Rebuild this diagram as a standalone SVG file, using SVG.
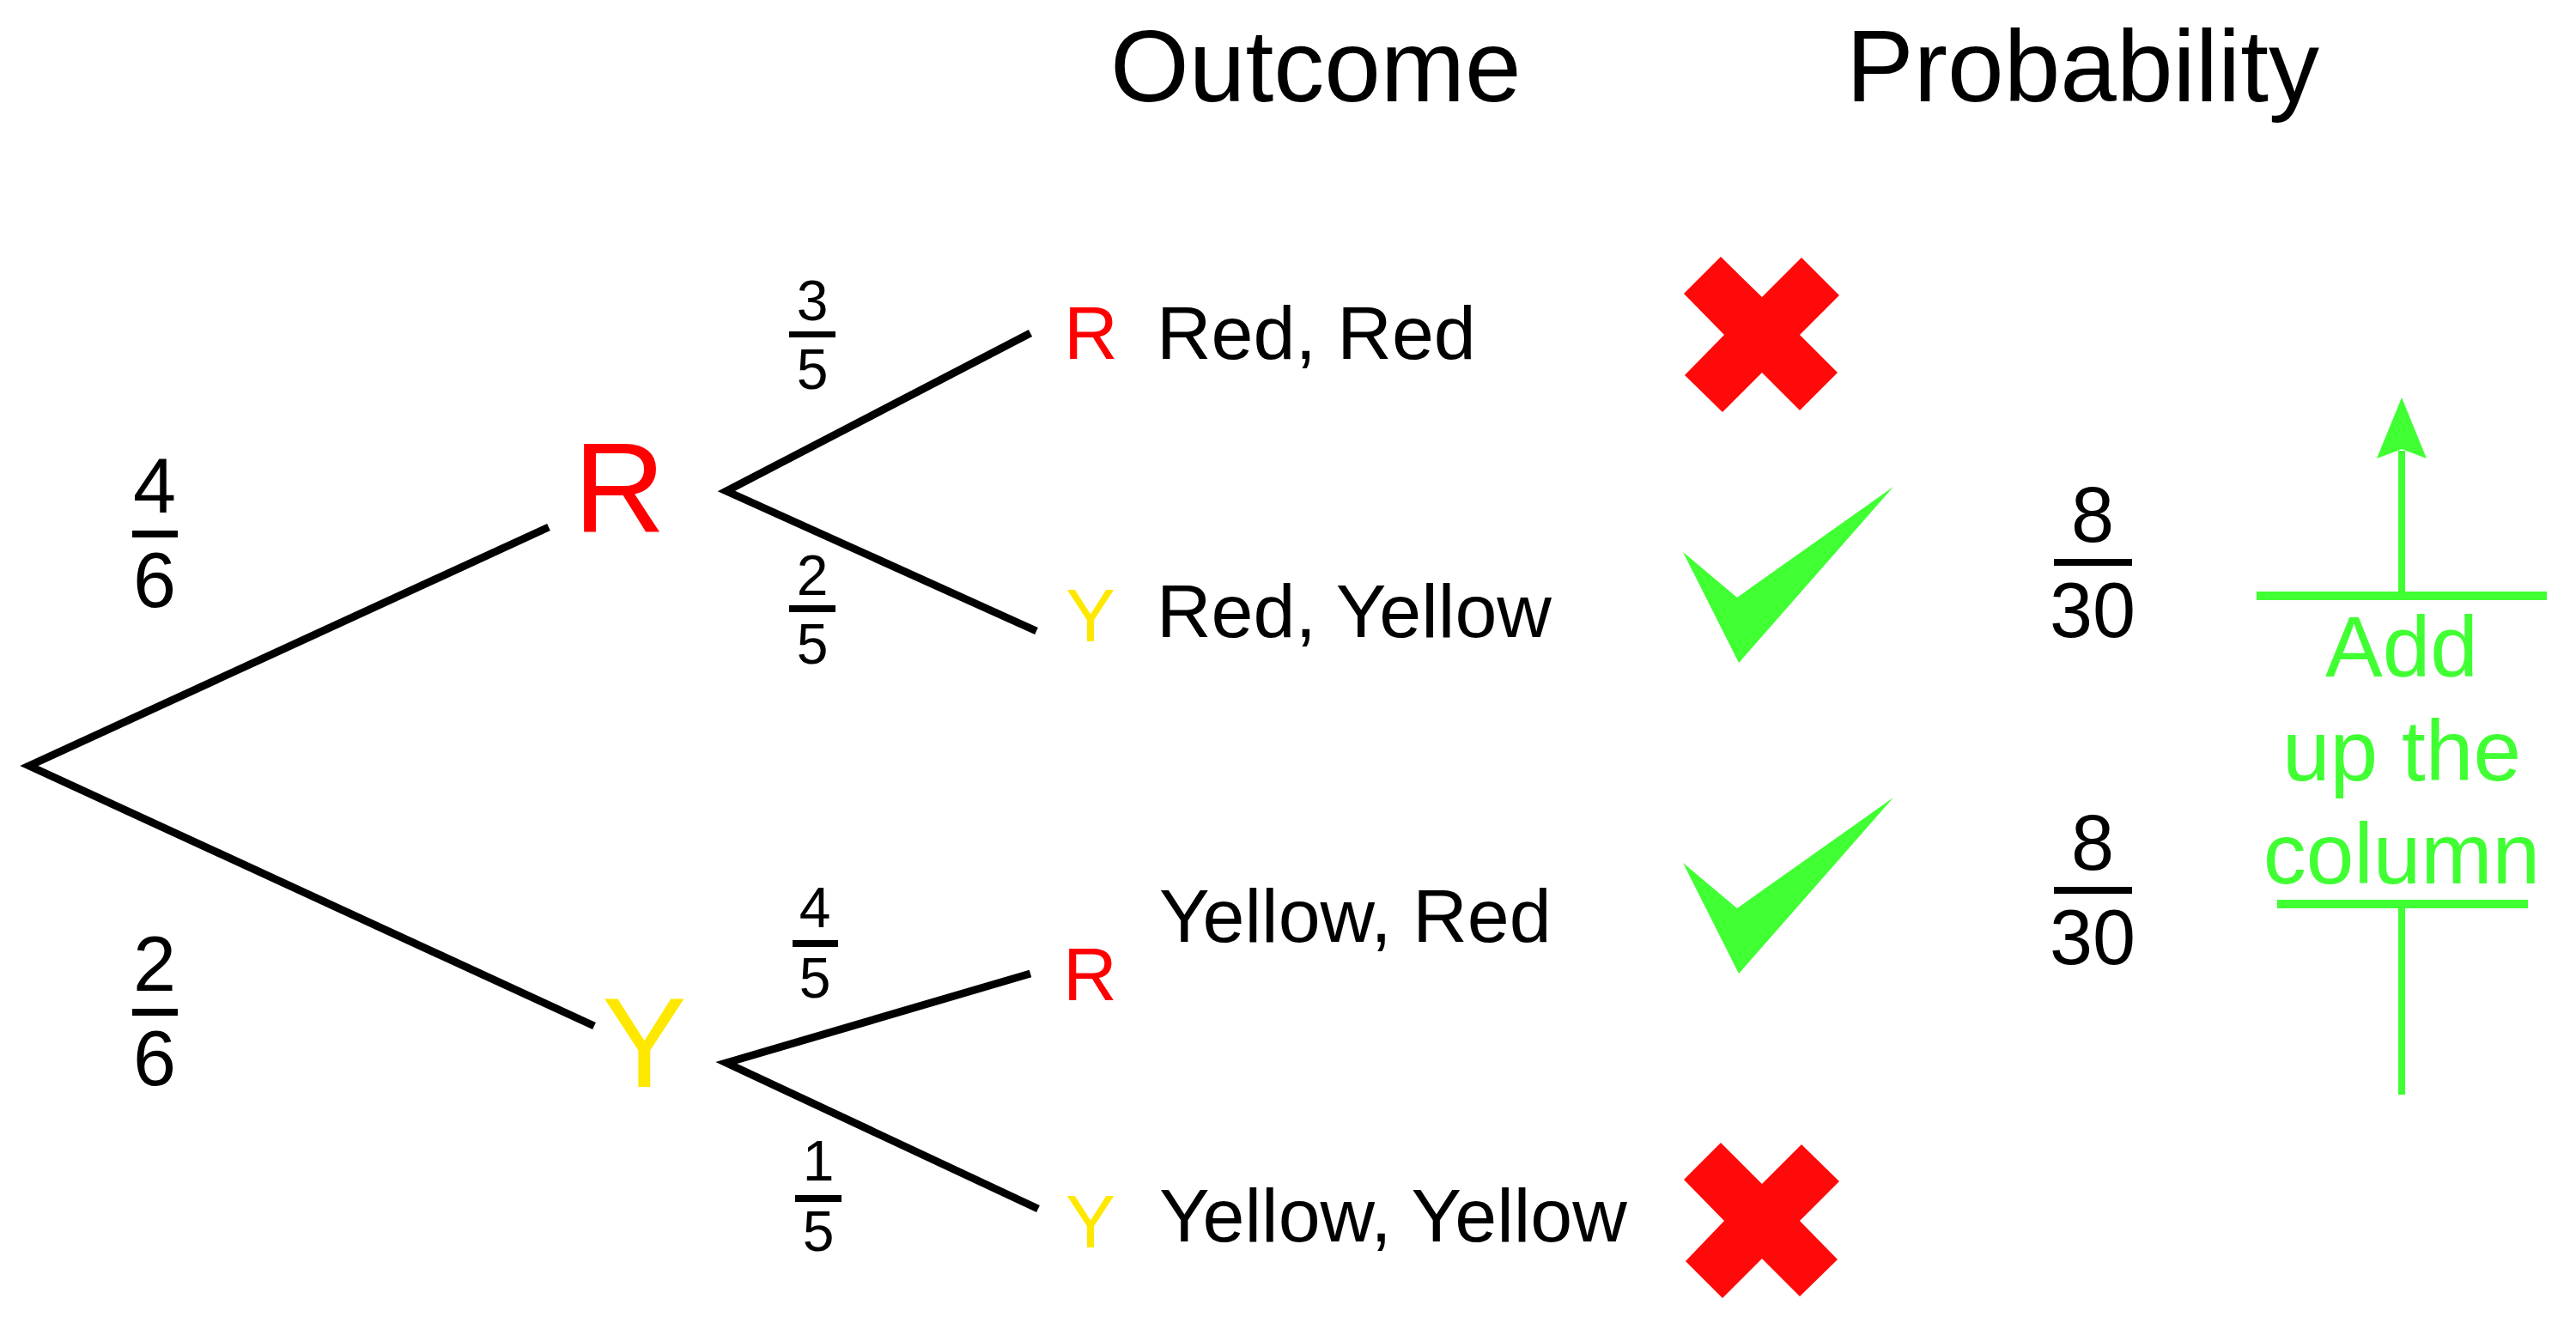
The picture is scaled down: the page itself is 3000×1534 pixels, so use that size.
<svg xmlns="http://www.w3.org/2000/svg" width="3000" height="1534" viewBox="0 0 3000 1534">
<style>
text{font-family:"Liberation Sans",Arial,sans-serif}
.hd{font-size:118px;fill:#000}
.big{font-size:148px}
.sm{font-size:87px}
.out{font-size:88px;fill:#000}
.f1{font-size:90px;fill:#000;text-anchor:middle}
.f2{font-size:66px;fill:#000;text-anchor:middle}
.red{fill:#ff0000}
.yel{fill:#ffe800}
.br{stroke:#000;stroke-width:9;fill:none;stroke-linejoin:miter;stroke-miterlimit:10}
.bar{fill:#000}
.x{fill:#ff0a0a}
.ck{fill:#40ff33}
.gl{stroke:#40ff33;fill:none}
.gt{font-size:100px;fill:#40ff33;text-anchor:middle}
</style>
<rect width="3000" height="1534" fill="#fff"/>
<g id="headers">
<text class="hd" x="1293" y="118">Outcome</text>
<text class="hd" x="2150" y="118">Probability</text>
</g>
<g id="connectors">
<polyline class="br" points="639,614 34,892 692,1195"/>
<polyline class="br" points="1200,388 846,572 1207,735"/>
<polyline class="br" points="1200,1134 846,1238 1209,1408"/>
</g>
<g id="branch-labels">
<g id="p-4-6"><text class="f1" x="180" y="597">4</text><rect class="bar" x="154" y="618" width="53" height="8"/><text class="f1" x="180" y="707">6</text></g>
<g id="p-2-6"><text class="f1" x="180" y="1154">2</text><rect class="bar" x="154" y="1175" width="53" height="8"/><text class="f1" x="180" y="1264">6</text></g>
<g id="p-3-5"><text class="f2" x="946" y="373">3</text><rect class="bar" x="919" y="386" width="54" height="7"/><text class="f2" x="946" y="453">5</text></g>
<g id="p-2-5"><text class="f2" x="946" y="693">2</text><rect class="bar" x="919" y="705" width="54" height="8"/><text class="f2" x="946" y="773">5</text></g>
<g id="p-4-5"><text class="f2" x="949" y="1080">4</text><rect class="bar" x="923" y="1095" width="53" height="8"/><text class="f2" x="949" y="1162">5</text></g>
<g id="p-1-5"><text class="f2" x="953" y="1375">1</text><rect class="bar" x="926" y="1392" width="54" height="8"/><text class="f2" x="953" y="1457">5</text></g>
</g>
<g id="node-R1"><text class="big red" x="668" y="619">R</text></g>
<g id="node-Y1"><text class="big yel" x="701" y="1266">Y</text></g>
<g id="node-RR"><text class="sm red" x="1239" y="418">R</text><text class="out" x="1347" y="418">Red, Red</text></g>
<g id="node-RY"><text class="sm yel" x="1241" y="747">Y</text><text class="out" x="1347" y="742">Red, Yellow</text></g>
<g id="node-YR"><text class="sm red" x="1238" y="1165">R</text><text class="out" x="1350" y="1097">Yellow, Red</text></g>
<g id="node-YY"><text class="sm yel" x="1241" y="1453">Y</text><text class="out" x="1350" y="1446">Yellow, Yellow</text></g>
<g id="marks">
<polygon class="x" points="2004,299 2052,346 2098,300 2142,344 2096,390 2140,434 2096,478 2052,434 2006,480 1962,437 2008,390 1961,342"/>
<polygon class="ck" points="1960,643 2023,696 2205,567 2025,772"/>
<polygon class="ck" points="1960,1005 2023,1058 2205,929 2025,1134"/>
<polygon class="x" points="2004,1331 2052,1379 2098,1333 2142,1376 2096,1422 2140,1467 2096,1510 2052,1466 2006,1512 1963,1469 2008,1422 1961,1374"/>
</g>
<g id="probabilities">
<g id="prob-RY"><text class="f1" x="2437" y="631">8</text><rect class="bar" x="2392" y="651" width="91" height="8"/><text class="f1" x="2437" y="742">30</text></g>
<g id="prob-YR"><text class="f1" x="2437" y="1013">8</text><rect class="bar" x="2392" y="1033" width="91" height="8"/><text class="f1" x="2437" y="1123">30</text></g>
</g>
<g id="add-note">
<line class="gl" x1="2628" y1="694" x2="2966" y2="694" stroke-width="10"/>
<line class="gl" x1="2797" y1="525" x2="2797" y2="694" stroke-width="8"/>
<polygon class="ck" points="2797,463 2826,534 2797,523 2768,534"/>
<text class="gt" x="2797" y="788">Add</text>
<text class="gt" x="2797" y="909">up the</text>
<text class="gt" x="2797" y="1029">column</text>
<line class="gl" x1="2652" y1="1053" x2="2944" y2="1053" stroke-width="10"/>
<line class="gl" x1="2797" y1="1053" x2="2797" y2="1275" stroke-width="8"/>
</g>
</svg>
